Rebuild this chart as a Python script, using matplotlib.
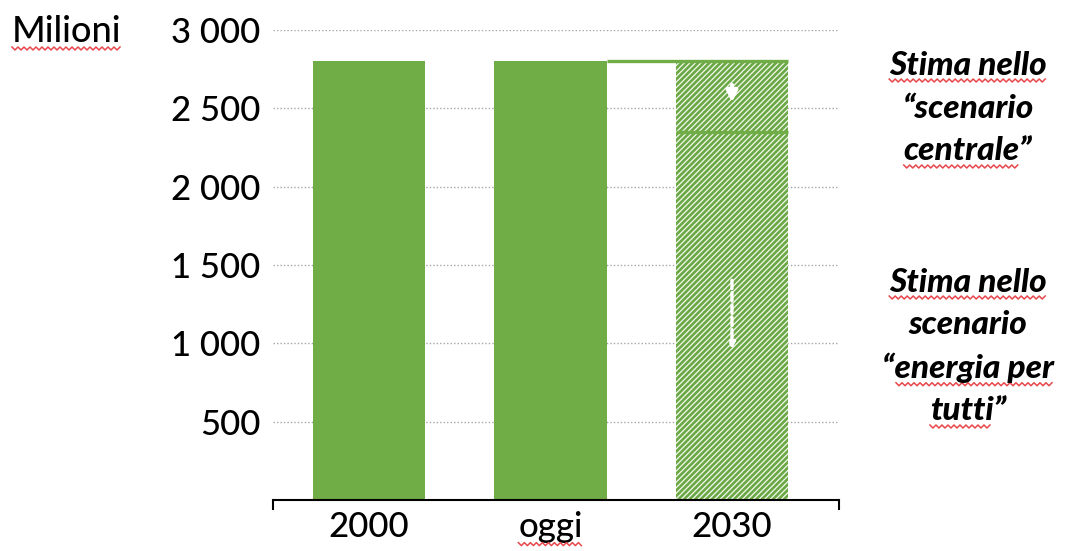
import matplotlib
matplotlib.use("Agg")
import matplotlib.pyplot as plt
import numpy as np
from matplotlib.lines import Line2D

# data
categories = ["2000", "oggi", "2030"]
values = [2800, 2800, 2800]
central_2030 = 2350
y_ticks = [500, 1000, 1500, 2000, 2500, 3000]
small_arrow = (2667, 2520)   # scenario centrale
big_arrow = (1420, 945)      # scenario energia per tutti
note_top = ["Stima nello", "\u201cscenario", "centrale\u201d"]
note_bottom = ["Stima nello", "scenario", "\u201cenergia per", "tutti\u201d"]

green = "#70AD47"
plt.rcParams["font.family"] = ["Lato", "DejaVu Sans"]
plt.rcParams["font.weight"] = "medium"
plt.rcParams["hatch.linewidth"] = 1.9

W, H = 1074, 551
fig = plt.figure(figsize=(W / 100, H / 100), dpi=100)
ax = fig.add_axes([273 / W, 1 - 500 / H, (839 - 273) / W, (500 - 30) / H])

x = np.arange(len(categories))
bw = 0.62
ax.bar(x[:2], values[:2], width=bw, color=green, zorder=2)
ax.bar(x[2], values[2], width=bw, facecolor="#F3F9EC", edgecolor="#6AA745",
       hatch="//////", linewidth=0, zorder=2)

# top line joining oggi to 2030, and central estimate line
ax.hlines(values[1], x[1] + bw / 2, x[2] + bw / 2, color=green, lw=2.4, zorder=3)
ax.hlines(central_2030, x[2] - bw / 2, x[2] + bw / 2, color=green, lw=2.4, zorder=3)

# white arrows inside the 2030 bar
ax.annotate("", xy=(x[2], small_arrow[1]), xytext=(x[2], small_arrow[0]),
            arrowprops=dict(arrowstyle="-|>", color="white", lw=3,
                            mutation_scale=16), zorder=4)
ax.annotate("", xy=(x[2], big_arrow[1]), xytext=(x[2], big_arrow[0]),
            arrowprops=dict(arrowstyle="-|>", color="white", lw=2.4,
                            linestyle=(0, (2.5, 1.2)), mutation_scale=9), zorder=4)

ax.set_xlim(-0.53, 2.59)
ax.set_ylim(0, 3000)
ax.set_yticks(y_ticks)
ax.set_yticklabels([f"{v:,}".replace(",", " ") for v in y_ticks])
ax.set_xticks(x)
ax.set_xticklabels(categories)
ax.set_xticks([-0.53, 2.59], minor=True)
ax.tick_params(axis="y", length=0, pad=9, labelsize=25)
ax.tick_params(axis="x", which="major", length=0, pad=8, labelsize=25)
ax.tick_params(axis="x", which="minor", length=7, width=1.5, direction="out")
ax.yaxis.grid(True, linestyle=(0, (1, 1.5)), color="#A6A6A6", lw=1, zorder=0)
for s in ["left", "right", "top"]:
    ax.spines[s].set_visible(False)
ax.spines["bottom"].set_linewidth(1.5)

fig.text(12 / W, 1 - 31 / H, "Milioni", fontsize=26, va="center", ha="left")

texts = []
for txt, yy in zip(note_top, [65, 108, 151]):
    t = fig.text(968 / W, 1 - yy / H, txt, fontsize=24, weight="black",
                 style="italic", ha="center", va="center")
    texts.append(t)
for txt, yy in zip(note_bottom, [282, 325, 368, 411]):
    t = fig.text(968 / W, 1 - yy / H, txt, fontsize=24, weight="black",
                 style="italic", ha="center", va="center")
    texts.append(t)

# red spell-check squiggles under some words
fig.canvas.draw()
r = fig.canvas.get_renderer()


def squiggle(x0, x1, y):
    xs = np.arange(x0, x1, 3.0)
    ys = y + np.where(np.arange(len(xs)) % 2 == 0, 1.5, -1.5)
    fig.add_artist(Line2D(xs / W, ys / H, color="#E8474C", lw=1.1))


lab_oggi = [l for l in ax.get_xticklabels() if l.get_text() == "oggi"][0]
marked = [fig.texts[0], lab_oggi, texts[0], texts[2], texts[3], texts[5], texts[6]]
for art in marked:
    bb = art.get_window_extent(r)
    x0, x1 = bb.x0, bb.x1
    if art.get_text().startswith("\u201c"):
        x0 += 14
    if art.get_text().endswith("\u201d"):
        x1 -= 14
    squiggle(x0, x1, bb.y0 - 1)

fig.savefig("out.png", dpi=100)
